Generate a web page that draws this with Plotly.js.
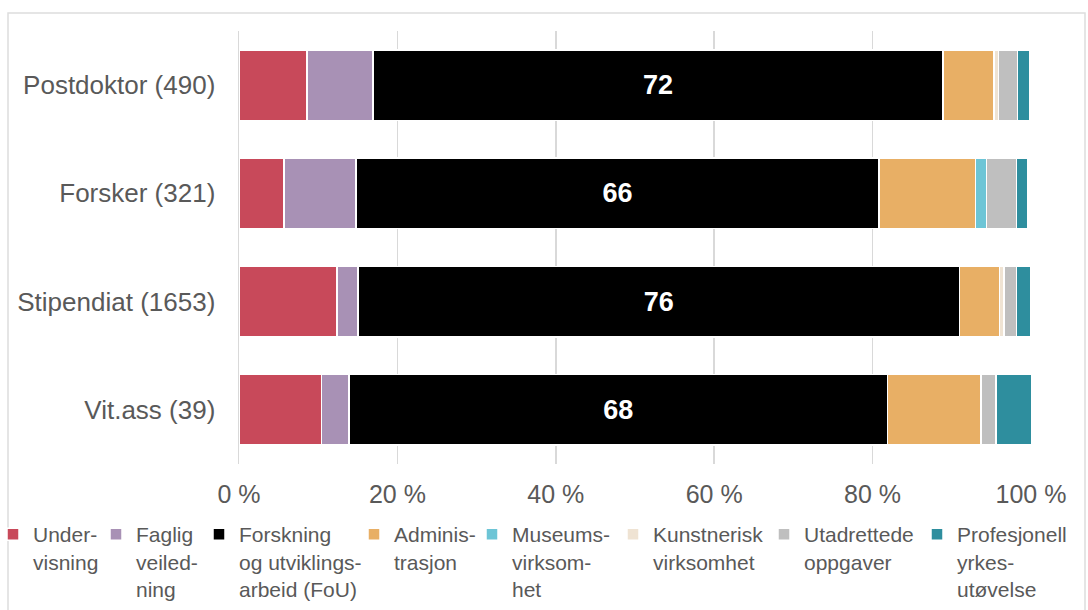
<!DOCTYPE html>
<html>
<head>
<meta charset="utf-8">
<script src="https://cdn.plot.ly/plotly-3.0.1.min.js"></script>
<style>
html,body{margin:0;padding:0;background:#fff;}
#chart{width:1088px;height:610px;}
</style>
</head>
<body>
<div id="chart"></div>
<script>
// Categories (top to bottom)
var categories = ["Postdoktor (490)", "Forsker (321)", "Stipendiat (1653)", "Vit.ass (39)"];

// Series names (legend text)
var seriesNames = [
  "Under-<br>visning",
  "Faglig<br>veiled-<br>ning",
  "Forskning<br>og utviklings-<br>arbeid (FoU)",
  "Adminis-<br>trasjon",
  "Museums-<br>virksom-<br>het",
  "Kunstnerisk<br>virksomhet",
  "Utadrettede<br>oppgaver",
  "Profesjonell<br>yrkes-<br>utøvelse"
];

// Series values (%) per category, in category order
var undervisning   = [8.6, 5.7, 12.4, 10.4];
var fagligVeiled   = [8.3, 9.1, 2.6, 3.5];
var fou            = [72, 66, 76, 68];
var administrasjon = [6.4, 12.2, 5.0, 11.8];
var museum         = [0, 1.4, 0, 0];
var kunstnerisk    = [0.6, 0, 0.6, 0];
var utadrettede    = [2.4, 3.8, 1.6, 1.9];
var profesjonell   = [1.5, 1.4, 1.8, 4.9];

var fouLabels = ["72", "66", "76", "68"];

var tickVals = [0, 20, 40, 60, 80, 100];
var tickText = ["0 %", "20 %", "40 %", "60 %", "80 %", "100 %"];

var colors = ["#C8495A", "#A891B5", "#000000", "#E8AF65", "#6DC5D6", "#EFE3D3", "#BFBFBF", "#2E8E9E"];
var seriesValues = [undervisning, fagligVeiled, fou, administrasjon, museum, kunstnerisk, utadrettede, profesjonell];

// Legend text left edges (px), one legend per series
var legendTextX = [37, 140, 243, 398, 516, 657, 808, 961];

var FONT = "Liberation Sans, Arial, sans-serif";
var plotL = 239, plotR = 1031, plotT = 31, plotB = 464;
var plotW = plotR - plotL, plotH = plotB - plotT;

var traces = seriesValues.map(function(vals, i){
  var t = {
    type: "bar",
    orientation: "h",
    name: seriesNames[i],
    y: categories,
    x: vals,
    legend: i === 0 ? "legend" : "legend" + (i + 1),
    marker: {color: colors[i], line: {color: "#ffffff", width: 1.5}},
    hoverinfo: "x+name"
  };
  if (i === 2) {
    t.text = fouLabels;
    t.textposition = "inside";
    t.insidetextanchor = "middle";
    t.textfont = {family: FONT, size: 27, color: "#ffffff"};
    t.texttemplate = "<b>%{text}</b>";
  } else {
    t.textposition = "none";
  }
  return t;
});

var layout = {
  width: 1088,
  height: 610,
  barmode: "stack",
  bargap: 0.35,
  margin: {l: plotL, r: 1088 - plotR, t: plotT, b: 610 - plotB, autoexpand: false},
  paper_bgcolor: "#ffffff",
  plot_bgcolor: "#ffffff",
  font: {family: FONT, color: "#595959", size: 21},
  showlegend: true,
  xaxis: {
    range: [0, 100],
    tickvals: tickVals,
    ticktext: tickText,
    showgrid: true,
    gridcolor: "#D9D9D9",
    gridwidth: 1.5,
    zeroline: false,
    showline: false,
    ticks: "",
    ticklabelstandoff: 13,
    tickfont: {family: FONT, size: 25, color: "#595959"},
    fixedrange: true
  },
  yaxis: {
    autorange: "reversed",
    showline: true,
    linecolor: "#D9D9D9",
    linewidth: 1.5,
    ticks: "",
    ticklabelstandoff: 17,
    tickfont: {family: FONT, size: 26, color: "#595959"},
    fixedrange: true
  },
  shapes: [{
    type: "rect", xref: "paper", yref: "paper",
    x0: (8 - plotL) / plotW, x1: (1085 - plotL) / plotW,
    y0: -0.5, y1: 1 + (plotT - 13) / plotH,
    line: {color: "#DDDDDD", width: 1.5},
    fillcolor: "rgba(0,0,0,0)", layer: "below"
  }]
};

legendTextX.forEach(function(tx, i){
  var key = i === 0 ? "legend" : "legend" + (i + 1);
  layout[key] = {
    orientation: "v",
    x: (tx - 44 - plotL) / plotW,
    xanchor: "left",
    y: -(514 - plotB) / plotH,
    yanchor: "top",
    valign: "top",
    itemwidth: 30,
    bgcolor: "rgba(0,0,0,0)",
    font: {family: FONT, size: 21, color: "#595959"}
  };
});

Plotly.newPlot("chart", traces, layout, {displayModeBar: false, staticPlot: true});
</script>
</body>
</html>
